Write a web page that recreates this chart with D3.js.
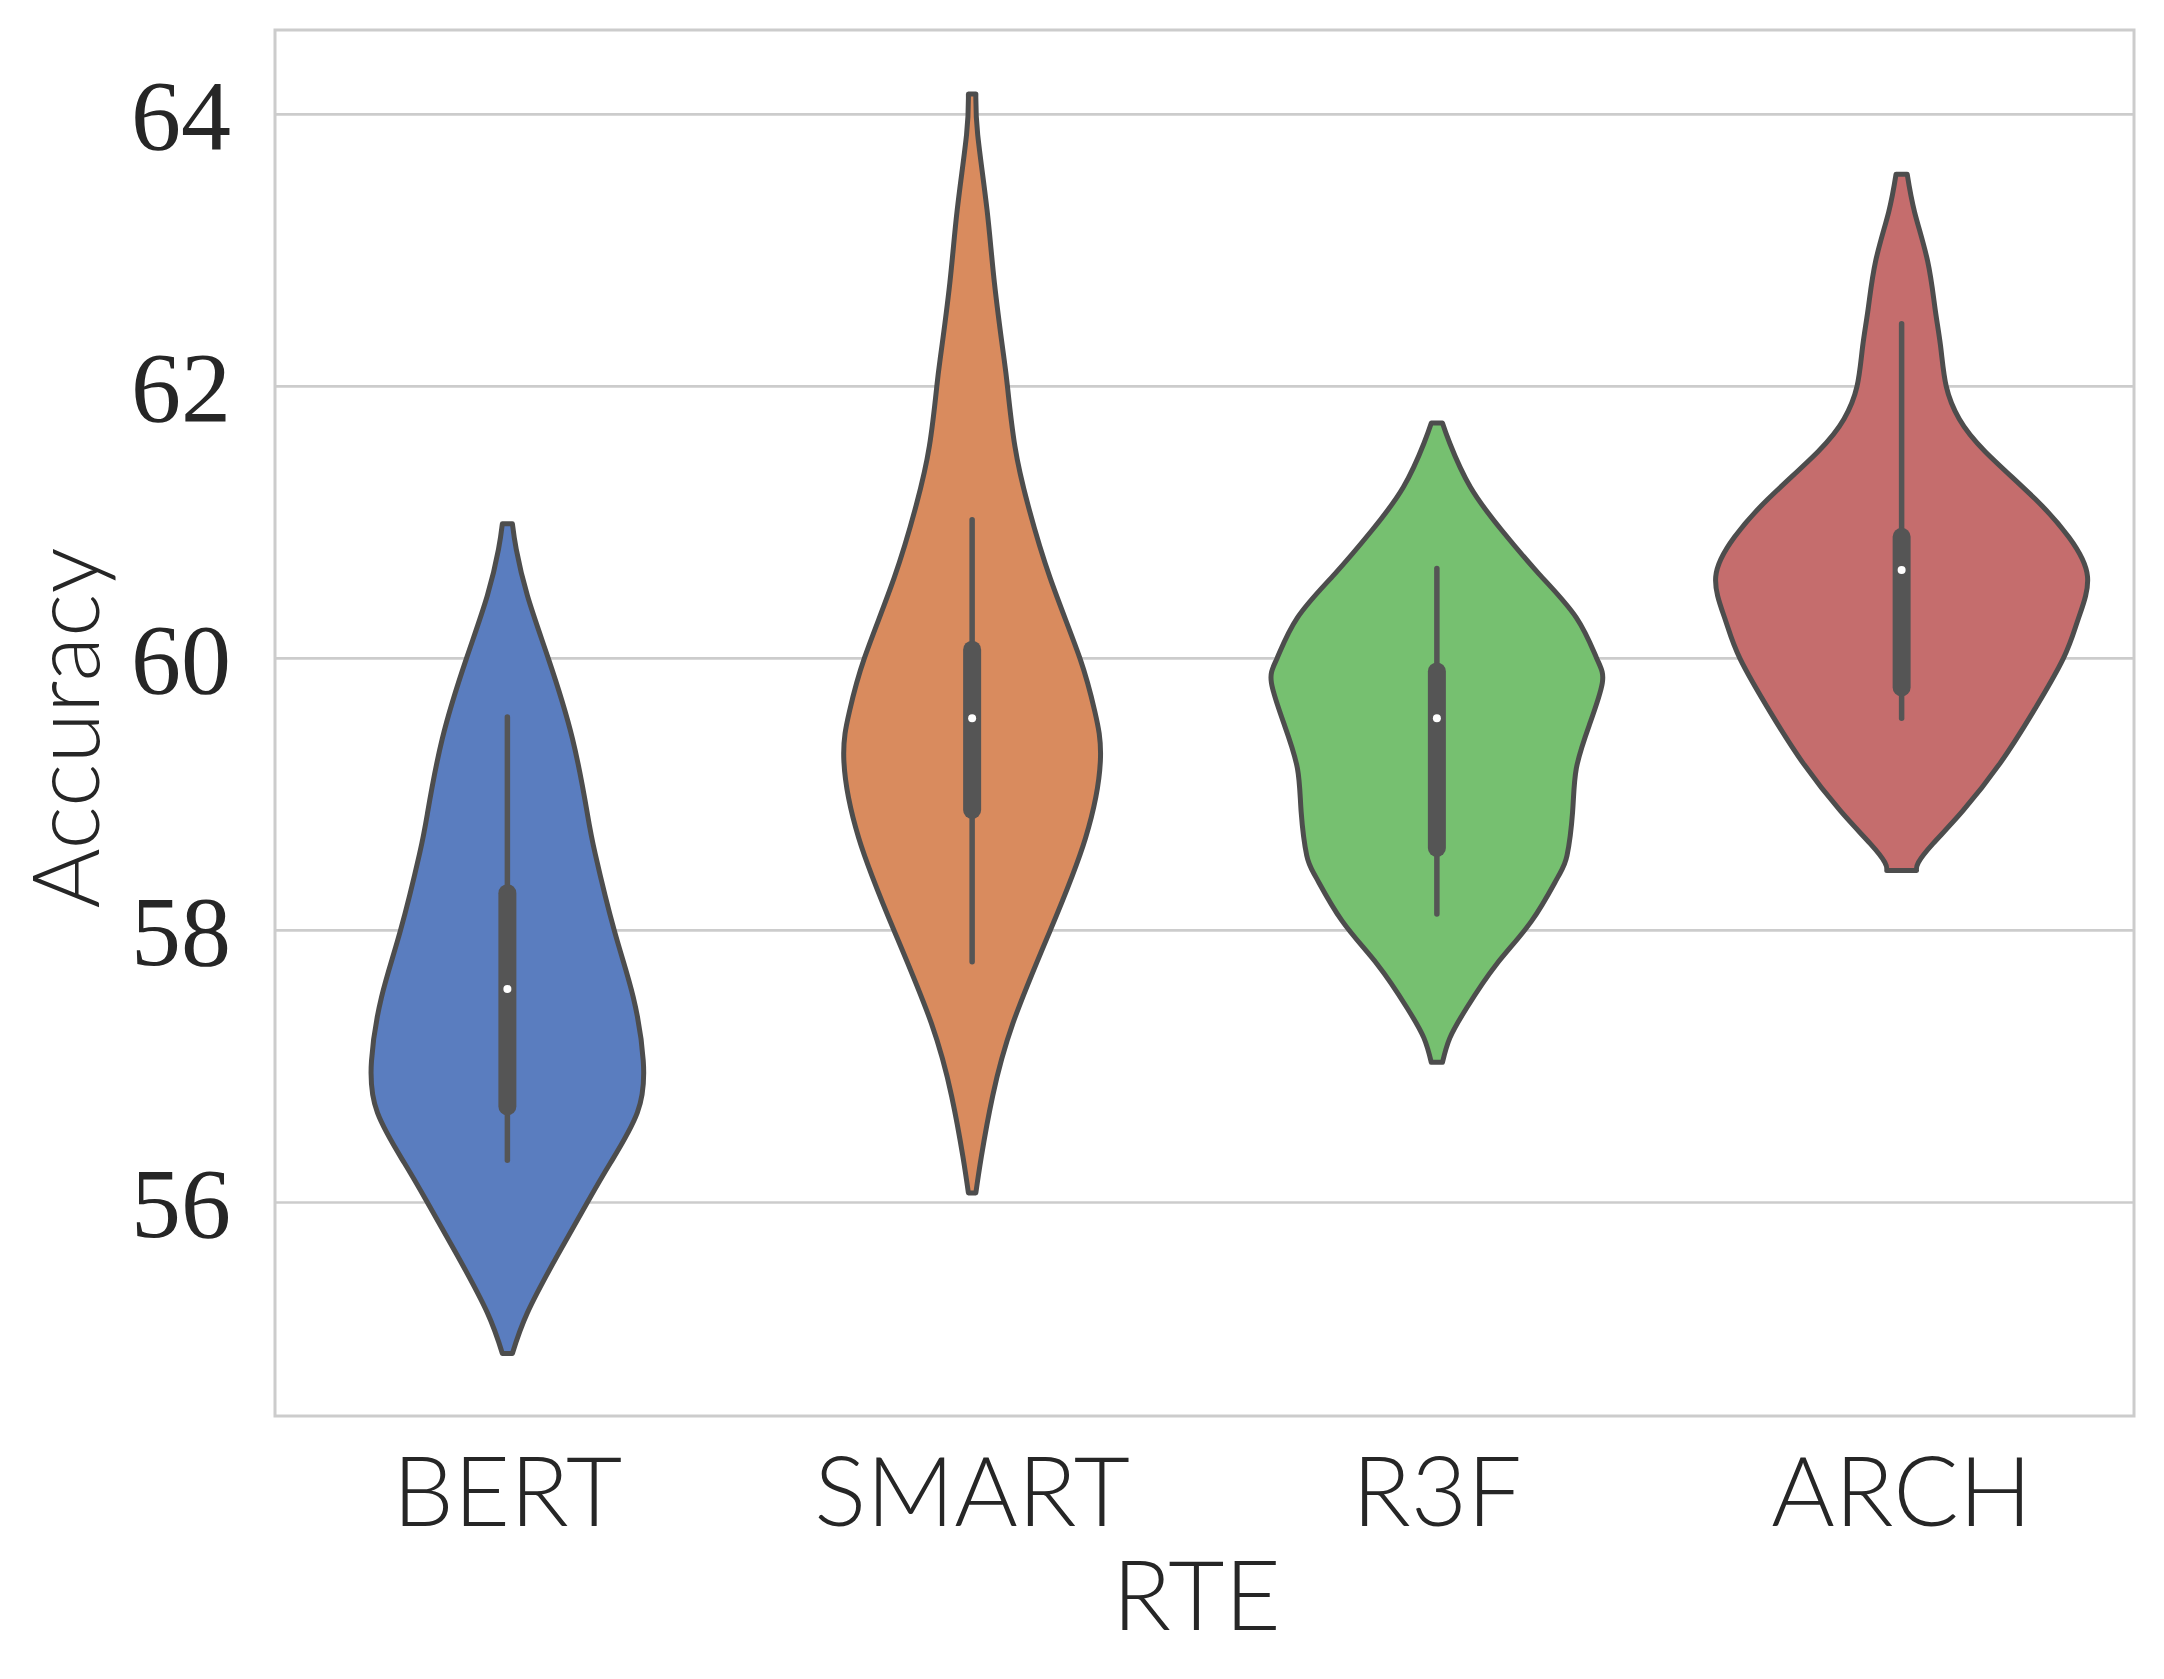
<!DOCTYPE html>
<html>
<head>
<meta charset="utf-8">
<script src="https://cdn.jsdelivr.net/npm/d3@7"></script>
<style>
  body { margin: 0; background: #fff; }
</style>
</head>
<body>
<svg id="canvas"></svg>
<script>
// categories and colours
let categories = ["BERT", "SMART", "R3F", "ARCH"];
let colors = ["#5a7dbf", "#d98b5e", "#76c070", "#c56d6d"];
let yTicks = [56, 58, 60, 62, 64];

// violin outlines: [accuracy, relative density]
let bertShape = [[60.99, .027], [60.80, .048], [60.46, .108], [60.0, .22], [59.41, .35], [58.86, .43], [58.56, .473], [58.0, .575], [57.51, .677], [57.04, .731], [56.66, .699], [56.29, .554], [56.0, .43], [55.61, .269], [55.19, .108], [54.89, .027]];
let smartShape = [[64.15, .02], [63.85, .03], [63.30, .08], [62.76, .12], [62.22, .17], [62.0, .19], [61.56, .23], [61.13, .30], [60.59, .42], [60.0, .58], [59.61, .66], [59.25, .69], [58.68, .61], [58.0, .42], [57.32, .22], [56.78, .11], [56.34, .05], [56.07, .02]];
let r3fShape = [[61.73, .03], [61.58, .07], [61.26, .18], [60.94, .35], [60.62, .55], [60.30, .75], [60.0, .86], [59.82, .89], [59.51, .82], [59.19, .75], [58.87, .73], [58.55, .70], [58.39, .65], [58.07, .51], [57.75, .32], [57.43, .16], [57.21, .07], [57.03, .03]];
let archShape = [[63.56, .03], [63.28, .07], [62.92, .14], [62.57, .18], [62.29, .21], [62.0, .24], [61.76, .31], [61.52, .45], [61.17, .72], [60.89, .90], [60.60, 1.0], [60.29, .95], [60.0, .87], [59.59, .70], [59.23, .53], [58.88, .33], [58.64, .17], [58.50, .09], [58.44, .08]];
let shapes = [bertShape, smartShape, r3fShape, archShape];

// inner box: whisker low, q1, median, q3, whisker high
let whiskerLow = [56.31, 57.77, 58.12, 59.56];
let q1 = [56.64, 58.82, 58.54, 59.72];
let medians = [57.57, 59.56, 59.56, 60.65];
let q3 = [58.34, 60.13, 59.97, 60.96];
let whiskerHigh = [59.57, 61.02, 60.66, 62.46];

let width = 2164;
let height = 1679;
let margin = { left: 275, right: 30, top: 30, bottom: 263 };

let canvas = d3.select("#canvas").attr("width", width).attr("height", height);

let innerW = width - margin.left - margin.right;
let innerH = height - margin.top - margin.bottom;

let x = d3.scaleBand().domain(categories).range([margin.left, margin.left + innerW]);
let y = d3.scaleLinear().domain([54.43, 64.62]).range([margin.top + innerH, margin.top]);
let w = d3.scaleLinear().domain([0, 1]).range([0, x.bandwidth() * 0.4]);

let gray = "#555555";

// grid lines
canvas.append("g")
  .selectAll("line")
  .data(yTicks)
  .enter()
  .append("line")
  .attr("x1", margin.left)
  .attr("x2", margin.left + innerW)
  .attr("y1", d => y(d))
  .attr("y2", d => y(d))
  .attr("stroke", "#cccccc")
  .attr("stroke-width", 2.6);

// violins
categories.forEach((cat, i) => {
  let cx = x(cat) + x.bandwidth() / 2;
  let area = d3.area()
    .y(d => y(d[0]))
    .x0(d => cx - w(d[1]))
    .x1(d => cx + w(d[1]))
    .curve(d3.curveNatural);

  canvas.append("path")
    .attr("d", area(shapes[i]))
    .attr("fill", colors[i])
    .attr("stroke", "#4d4d4d")
    .attr("stroke-width", 5)
    .attr("stroke-linejoin", "round");

  canvas.append("line")
    .attr("x1", cx).attr("x2", cx)
    .attr("y1", y(whiskerLow[i]))
    .attr("y2", y(whiskerHigh[i]))
    .attr("stroke", gray)
    .attr("stroke-width", 5.5)
    .attr("stroke-linecap", "round");

  canvas.append("rect")
    .attr("x", cx - 9)
    .attr("width", 18)
    .attr("y", y(q3[i]))
    .attr("height", y(q1[i]) - y(q3[i]))
    .attr("rx", 9)
    .attr("ry", 9)
    .attr("fill", gray);

  canvas.append("circle")
    .attr("cx", cx)
    .attr("cy", y(medians[i]))
    .attr("r", 4)
    .attr("fill", "#ffffff");
});

// frame
canvas.append("rect")
  .attr("x", margin.left)
  .attr("y", margin.top)
  .attr("width", innerW)
  .attr("height", innerH)
  .attr("fill", "none")
  .attr("stroke", "#cccccc")
  .attr("stroke-width", 3);

// y tick labels
canvas.append("g")
  .selectAll("text")
  .data(yTicks)
  .enter()
  .append("text")
  .attr("x", margin.left - 44)
  .attr("y", d => y(d))
  .attr("dy", "0.35em")
  .attr("text-anchor", "end")
  .attr("font-family", "'Liberation Serif', 'Times New Roman', serif")
  .attr("font-size", 100)
  .attr("fill", "#262626")
  .text(d => d);

// x tick labels
canvas.append("g")
  .selectAll("text")
  .data(categories)
  .enter()
  .append("text")
  .attr("x", d => x(d) + x.bandwidth() / 2)
  .attr("y", 1526)
  .attr("text-anchor", "middle")
  .attr("font-family", "Lato, sans-serif")
  .attr("font-weight", 300)
  .attr("font-size", 97)
  .attr("fill", "#262626")
  .text(d => d);

// axis titles
canvas.append("text")
  .attr("x", margin.left + innerW / 2 - 8)
  .attr("y", 1630)
  .attr("text-anchor", "middle")
  .attr("font-family", "Lato, sans-serif")
  .attr("font-weight", 300)
  .attr("font-size", 97)
  .attr("fill", "#262626")
  .text("RTE");

canvas.append("text")
  .attr("transform", `translate(99, ${margin.top + innerH / 2 + 5}) rotate(-90)`)
  .attr("text-anchor", "middle")
  .attr("font-family", "Lato, sans-serif")
  .attr("font-weight", 300)
  .attr("font-size", 92)
  .attr("fill", "#262626")
  .text("Accuracy");
</script>
</body>
</html>
